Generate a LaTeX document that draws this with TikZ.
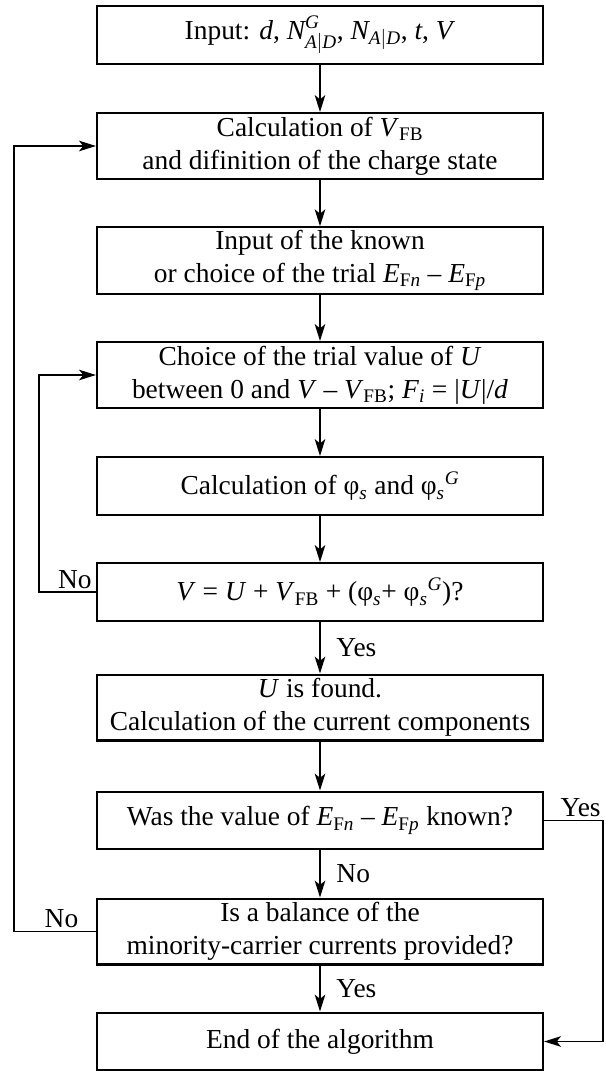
\documentclass[tikz,border=0pt]{standalone}
\usepackage{amsmath}
\usepackage{fontspec}
\setmainfont{Liberation Serif}
\usetikzlibrary{arrows.meta}

\newcommand{\iv}[1]{\textit{#1}}
\newcommand{\sbt}[1]{$_{\text{#1}}$}

\begin{document}
\begin{tikzpicture}[x=0.025cm, y=-0.025cm,
    box/.style={draw, line width=1.45pt, minimum width=11.15cm, minimum height=41.2pt,
        inner sep=2pt, align=center, font=\fontsize{19.5}{23.5}\selectfont},
    boxtwo/.style={box, minimum height=46.9pt},
    lbl/.style={inner sep=2pt, font=\fontsize{19.5}{23.5}\selectfont},
    flow/.style={line width=1.2pt, -{Stealth[length=12pt, width=7.5pt, inset=3pt]}}]
    %% Frame
    \useasboundingbox (0,0) rectangle (605,1071);

    %% Steps
    \node[box] (input) at (320,35) {Input: \iv{d}, $\textit{N}^{\textit{G}}_{\textit{A}|\textit{D}}$, $\textit{N}_{\textit{A}|\textit{D}}$, \iv{t}, \iv{V}};
    \node[boxtwo] (vfb) at (320,146) {Calculation of \iv{V}\sbt{FB}\\and difinition of the charge state};
    \node[boxtwo] (efn) at (320,260.5) {Input of the known\\or choice of the trial \iv{E}\sbt{F\textit{n}} – \iv{E}\sbt{F\textit{p}}};
    \node[boxtwo] (trialU) at (320,375) {Choice of the trial value of \iv{U}\\between 0 and \iv{V} – \iv{V}\sbt{FB}; \iv{F}\sbt{\textit{i}} = |\iv{U}|/\iv{d}};
    \node[box] (phis) at (320,486) {Calculation of φ\sbt{\textit{s}} and φ$_{\textit{s}}{}^{\textit{G}}$};
    \node[box] (check) at (320,592) {\iv{V} = \iv{U} + \iv{V}\sbt{FB} + (φ\sbt{\textit{s}}+ φ$_{\textit{s}}{}^{\textit{G}}$)?};
    \node[boxtwo] (found) at (320,707.5) {\iv{U} is found.\\Calculation of the current components};
    \node[box] (known) at (320,820.5) {Was the value of \iv{E}\sbt{F\textit{n}} – \iv{E}\sbt{F\textit{p}} known?};
    \node[boxtwo] (balance) at (320,931.5) {Is a balance of the\\minority-carrier currents provided?};
    \node[box] (finish) at (320,1041.5) {End of the algorithm};

    %% Main flow
    \foreach \a/\b in {input/vfb, vfb/efn, efn/trialU, trialU/phis, phis/check}
    {
        \draw[flow] (\a) to (\b);
    }
    \draw[flow] (check) to node[lbl, right, xshift=0.32cm]{Yes} (found);
    \draw[flow] (found) to (known);
    \draw[flow] (known) to node[lbl, right, xshift=0.32cm]{No} (balance);
    \draw[flow] (balance) to node[lbl, right, xshift=0.32cm]{Yes} (finish);

    %% Loops
    \draw[flow] (check.west) to node[lbl, above, pos=0.37]{No} ++(-57,0) |- (trialU.west);
    \draw[flow] (balance.west) to node[lbl, above, pos=0.42]{No} ++(-82,0) |- (vfb.west);
    \draw[flow] (known.east) to node[lbl, above, pos=0.62]{Yes} ++(59,0) |- (finish.east);
\end{tikzpicture}
\end{document}
